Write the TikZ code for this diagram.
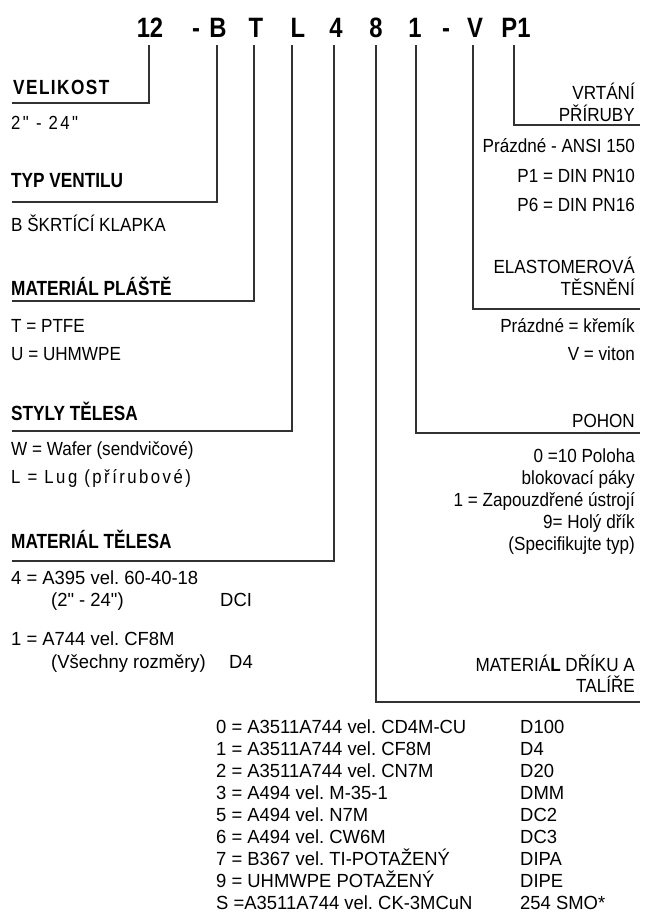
\documentclass[tikz,border=0pt]{standalone}
\usepackage{fontspec}
\setmainfont[FakeStretch=0.9, Ligatures=TeXOff]{Liberation Sans}
\newfontfamily\widefont[FakeStretch=0.97]{Liberation Sans}
\newfontfamily\headfont[FakeStretch=0.84]{Liberation Sans}
\newfontfamily\spacedhead[FakeStretch=0.84,LetterSpace=7]{Liberation Sans}
\newfontfamily\spacedfont[FakeStretch=0.88,LetterSpace=13]{Liberation Sans}
\newfontfamily\codefont[FakeStretch=0.85]{Liberation Sans}
\usepackage{tikz}
\usetikzlibrary{positioning}
\definecolor{leadgray}{RGB}{50, 50, 50}
\frenchspacing

\begin{document}
\begin{tikzpicture}[x=1pt, y=-1pt,
    code/.style={anchor=base, inner sep=0pt,
                 font=\codefont\bfseries\fontsize{28}{28}\selectfont},
    head/.style={anchor=base west, inner sep=0pt,
                 font=\headfont\bfseries\fontsize{20.5}{24}\selectfont},
    entry/.style={anchor=base west, inner sep=0pt,
                  font=\fontsize{19}{22}\selectfont},
    wentry/.style={anchor=base west, inner sep=0pt,
                   font=\widefont\fontsize{19}{22}\selectfont},
    rentry/.style={anchor=base east, inner sep=0pt,
                   font=\fontsize{19}{22}\selectfont},
    lead/.style={draw=leadgray, line width=1.8pt, shorten <=7pt}
]
    \useasboundingbox (0,0) rectangle (650,917);

    \node[code] (c12) at (150,38) {12};
    \node[code] (cdashA) at (196,38) {-};
    \node[code] (cB) at (218,38) {B};
    \node[code] (cT) at (256,38) {T};
    \node[code] (cL) at (298,38) {L};
    \node[code] (c4) at (336,38) {4};
    \node[code] (c8) at (376,38) {8};
    \node[code] (c1) at (415,38) {1};
    \node[code] (cdashB) at (446,38) {-};
    \node[code] (cV) at (475,38) {V};
    \node[code] (cP1) at (516,38) {P1};

    \coordinate (velEnd) at (12,103);
    \coordinate (typEnd) at (12,202);
    \coordinate (plastEnd) at (12,301);
    \coordinate (stylEnd) at (12,431);
    \coordinate (telEnd) at (12,561);
    \coordinate (vrtEnd) at (640,125);
    \coordinate (elastEnd) at (640,309);
    \coordinate (pohonEnd) at (640,433);
    \coordinate (drikEnd) at (640,702);

    \draw[lead] ([xshift=-1pt]c12.south) |- (velEnd);
    \draw[lead] ([xshift=-1pt]cB.south) |- (typEnd);
    \draw[lead] ([xshift=-2pt]cT.south) |- (plastEnd);
    \draw[lead] ([xshift=-6pt]cL.south) |- (stylEnd);
    \draw[lead] ([xshift=-2pt]c4.south) |- (telEnd);
    \draw[lead] (c8.south) |- (drikEnd);
    \draw[lead] ([xshift=1pt]c1.south) |- (pohonEnd);
    \draw[lead] ([xshift=-2pt]cV.south) |- (elastEnd);
    \draw[lead] ([xshift=-2pt]cP1.south) |- (vrtEnd);

    \node[head, font=\spacedhead\bfseries\fontsize{20.5}{24}\selectfont] (velikost) at (13,95) {VELIKOST};
    \node[entry, font=\spacedfont\fontsize{19}{22}\selectfont] (velRange) at (11,130) {2" - 24"};

    \node[head] (typ) at (11,188) {TYP VENTILU};
    \node[entry] (typB) at (11,232) {B ŠKRTÍCÍ KLAPKA};

    \node[head] (plast) at (11,295) {MATERIÁL PLÁŠTĚ};
    \node[entry] (plastT) at (11,332) {T = PTFE};
    \node[entry] (plastU) at (11,360) {U = UHMWPE};

    \node[head] (styl) at (11,420) {STYLY TĚLESA};
    \node[entry] (stylW) at (11,455) {W = Wafer (sendvičové)};
    \node[entry, font=\spacedfont\fontsize{19}{22}\selectfont] (stylL) at (11,483) {L = Lug (přírubové)};

    \node[head] (tel) at (11,548) {MATERIÁL TĚLESA};
    \node[wentry] (tel4) at (11,584) {4 = A395 vel. 60-40-18};
    \node[wentry] (tel4s) at (51,606) {(2" - 24")};
    \node[wentry] (tel4c) at (220,606) {DCI};
    \node[wentry] (tel1) at (11,645) {1 = A744 vel. CF8M};
    \node[wentry] (tel1s) at (51,668) {(Všechny rozměry)};
    \node[wentry] (tel1c) at (229,668) {D4};

    \node[rentry] (vrtA) at (635,100) {VRTÁNÍ};
    \node[rentry] (vrtB) at (635,122) {PŘÍRUBY};
    \node[rentry] (vrt0) at (635,153) {Prázdné - ANSI 150};
    \node[rentry] (vrt1) at (635,183) {P1 = DIN PN10};
    \node[rentry] (vrt6) at (635,212) {P6 = DIN PN16};

    \node[rentry] (elastA) at (635,273) {ELASTOMEROVÁ};
    \node[rentry] (elastB) at (635,295) {TĚSNĚNÍ};
    \node[rentry] (elast0) at (635,332) {Prázdné = křemík};
    \node[rentry] (elastV) at (635,360) {V = viton};

    \node[rentry] (pohon) at (635,427) {POHON};
    \node[rentry] (pohon0) at (635,462) {0 =10 Poloha};
    \node[rentry] (pohon0b) at (635,484) {blokovací páky};
    \node[rentry] (pohon1) at (635,506) {1 = Zapouzdřené ústrojí};
    \node[rentry] (pohon9) at (635,528) {9= Holý dřík};
    \node[rentry] (pohon9b) at (635,550) {(Specifikujte typ)};

    \node[rentry] (drikA) at (635,671) {MATERIÁ\textbf{L} DŘÍKU A};
    \node[rentry] (drikB) at (635,692) {TALÍŘE};

    \node[wentry] (d0) at (216,733) {0 = A3511A744 vel. CD4M-CU};
    \node[wentry] (d0c) at (520,733) {D100};
    \node[wentry] (d1) at (216,755) {1 = A3511A744 vel. CF8M};
    \node[wentry] (d1c) at (520,755) {D4};
    \node[wentry] (d2) at (216,777) {2 = A3511A744 vel. CN7M};
    \node[wentry] (d2c) at (520,777) {D20};
    \node[wentry] (d3) at (216,799) {3 = A494 vel. M-35-1};
    \node[wentry] (d3c) at (520,799) {DMM};
    \node[wentry] (d5) at (216,821) {5 = A494 vel. N7M};
    \node[wentry] (d5c) at (520,821) {DC2};
    \node[wentry] (d6) at (216,843) {6 = A494 vel. CW6M};
    \node[wentry] (d6c) at (520,843) {DC3};
    \node[wentry] (d7) at (216,865) {7 = B367 vel. TI-POTAŽENÝ};
    \node[wentry] (d7c) at (520,865) {DIPA};
    \node[wentry] (d9) at (216,887) {9 = UHMWPE POTAŽENÝ};
    \node[wentry] (d9c) at (520,887) {DIPE};
    \node[wentry] (dS) at (216,909) {S =A3511A744 vel. CK-3MCuN};
    \node[wentry] (dSc) at (520,909) {254 SMO*};
\end{tikzpicture}
\end{document}
